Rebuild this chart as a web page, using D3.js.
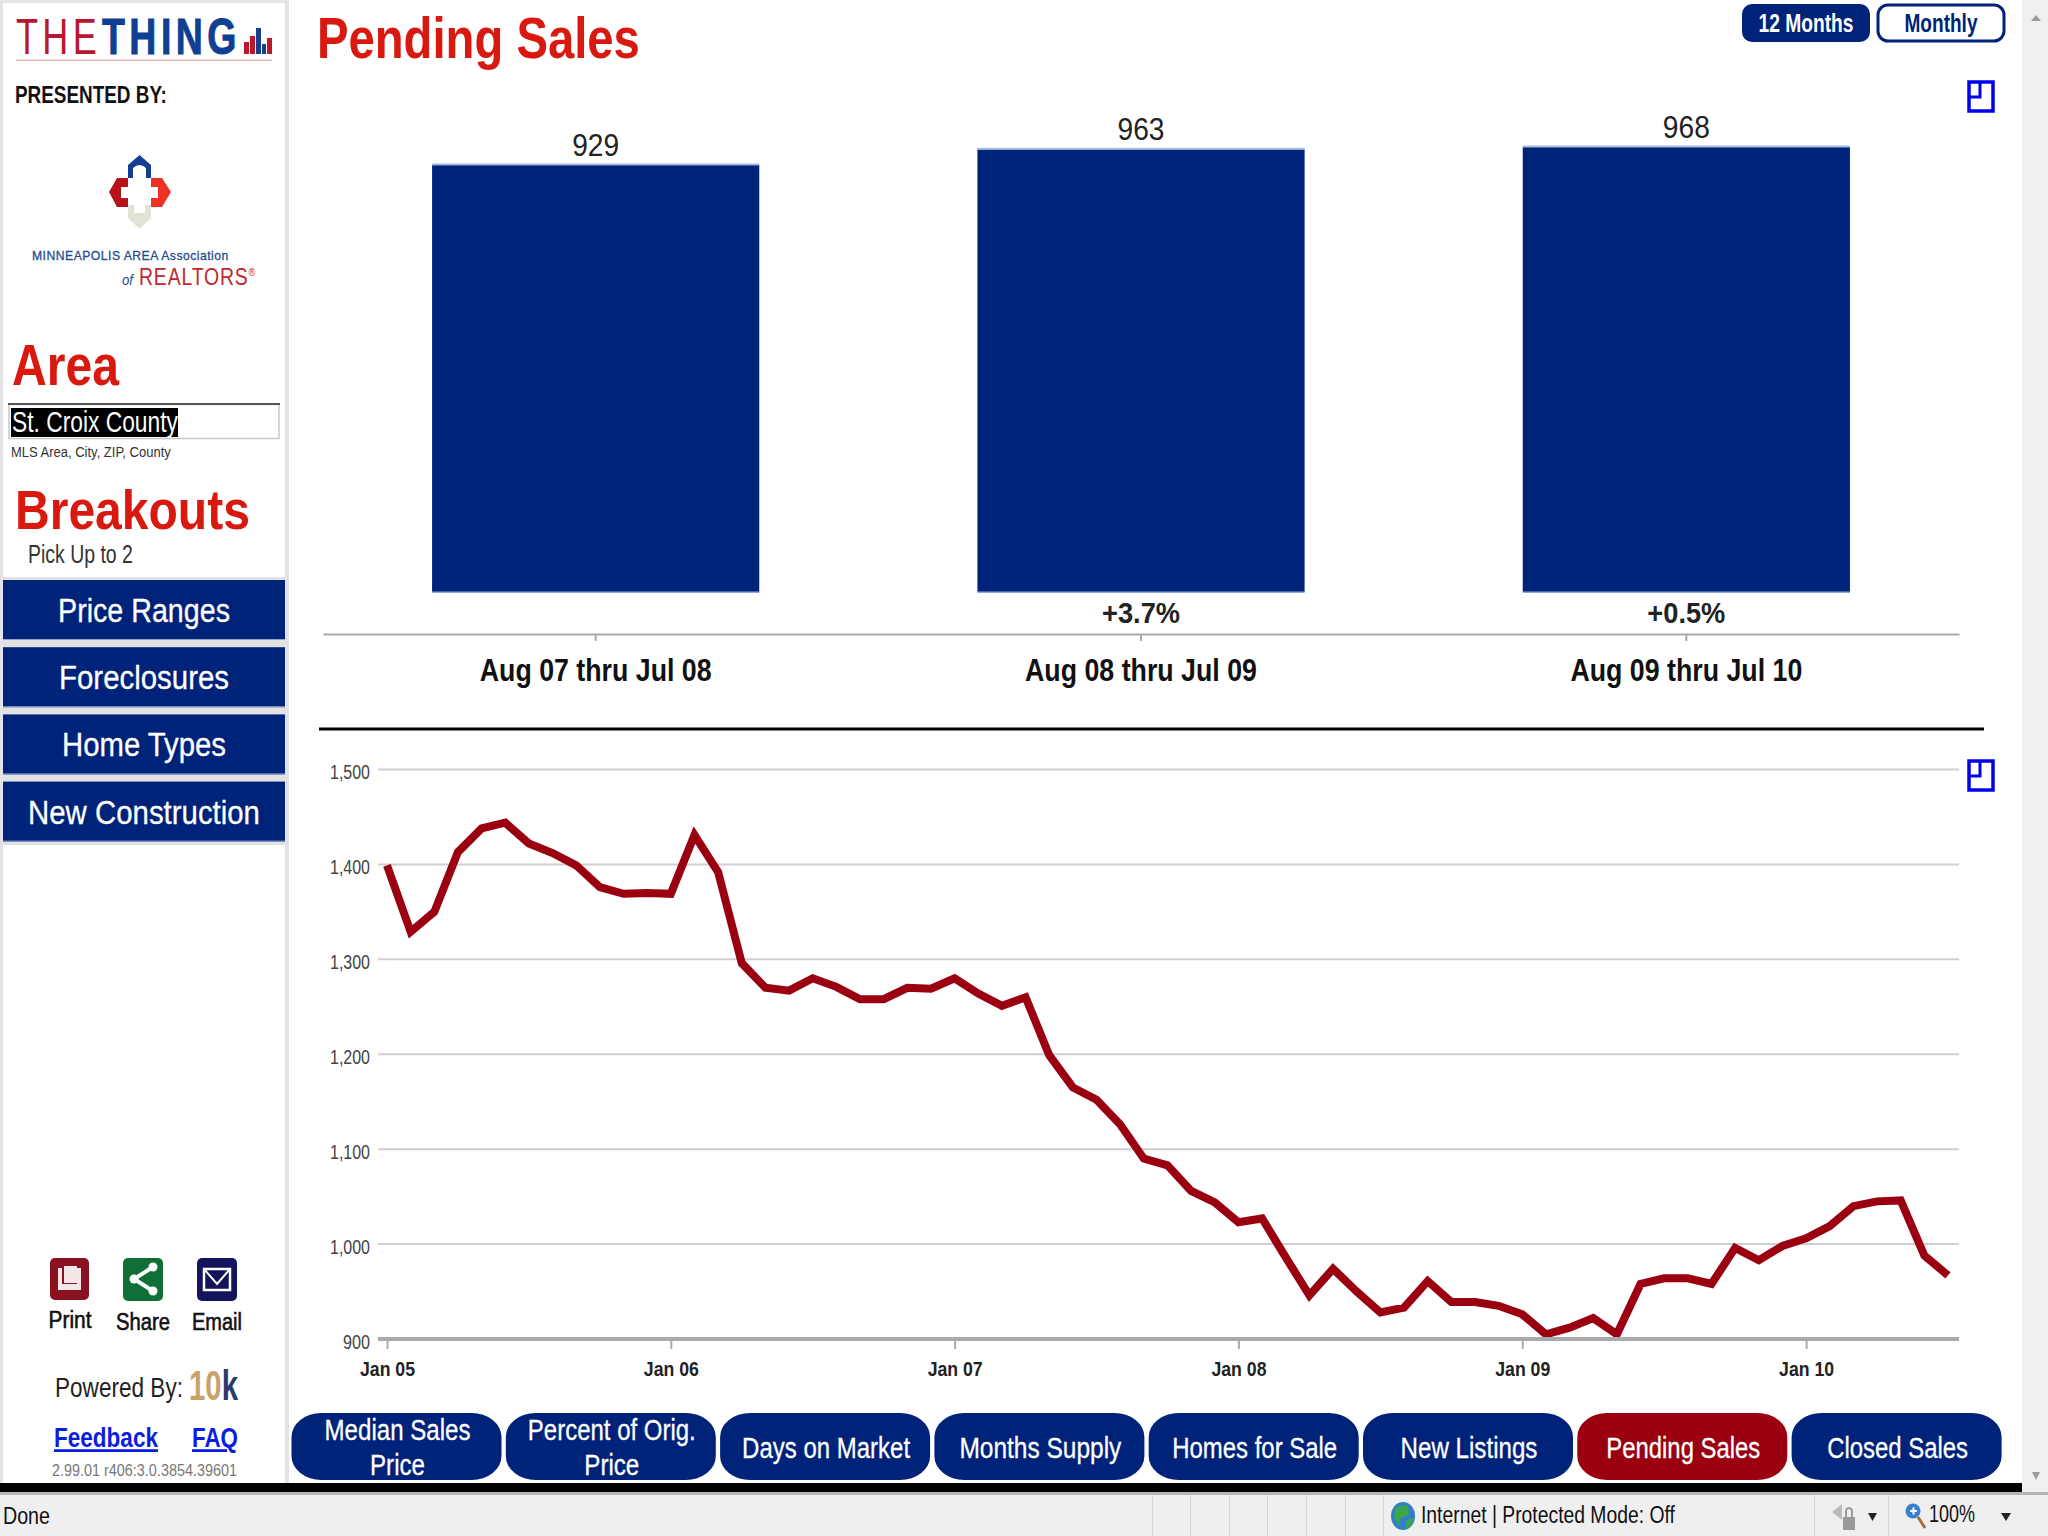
<!DOCTYPE html>
<html><head><meta charset="utf-8">
<script src="https://cdnjs.cloudflare.com/ajax/libs/d3/7.8.5/d3.min.js"></script>
<style>html,body{margin:0;padding:0;background:#fff;overflow:hidden}svg{display:block;font-family:"Liberation Sans",Arial,sans-serif}</style>
</head><body><svg id="c" width="2048" height="1536" viewBox="0 0 2048 1536"></svg>
<script>
// ---- data ----
const barLabels = ["Aug 07 thru Jul 08","Aug 08 thru Jul 09","Aug 09 thru Jul 10"];
const barValues = [929,963,968];
const barChanges = ["","+3.7%","+0.5%"];
const lineValues = [1399,1329,1350,1413,1438,1444,1422,1412,1399,1376,1369,1370,
 1369,1431,1392,1296,1270,1267,1280,1271,1258,1258,1270,1269,
 1280,1264,1251,1260,1199,1165,1152,1126,1090,1083,1056,1044,
 1023,1027,986,946,974,950,928,933,961,939,939,935,
 926,905,912,922,905,958,964,964,958,996,983,998,
 1006,1019,1040,1045,1046,988,967];
const yTicks = [900,1000,1100,1200,1300,1400,1500];
const xTickIndex = [0,12,24,36,48,60];
const xTickLabels = ["Jan 05","Jan 06","Jan 07","Jan 08","Jan 09","Jan 10"];
const sideButtons = ["Price Ranges","Foreclosures","Home Types","New Construction"];
const sideWidths = [172,170,164,232];
const tabLines = [["Median Sales","Price"],["Percent of Orig.","Price"],["Days on Market"],["Months Supply"],["Homes for Sale"],["New Listings"],["Pending Sales"],["Closed Sales"]];
const tabWidths = [[146,55],[168,55],[168],[162],[165],[137],[154],[141]];
const activeTab = "Pending Sales";

// ---- helpers ----
const NAVY="#00237a", RED="#d9180f", DARKRED="#9b0010";
const svg=d3.select("#c");
// text fitted to a target width by horizontal scaling (the reference is horizontally squeezed)
function T(s,x,y,size,w,o={}){
  const t=svg.append("text").attr("font-size",size)
    .attr("fill",o.fill||"#111").attr("text-anchor",o.anchor||"start");
  if(o.parts){ o.parts.forEach(p=>{
      const sp=t.append("tspan").text(p.s);
      if(p.fill)sp.attr("fill",p.fill);
      if(p.size)sp.attr("font-size",p.size);
      if(p.dy)sp.attr("dy",p.dy);
    });
  } else t.text(s);
  if(o.weight)t.attr("font-weight",o.weight);
  if(o.style)t.attr("font-style",o.style);
  if(o.deco)t.attr("text-decoration",o.deco);
  if(o.spacing)t.attr("letter-spacing",o.spacing);
  if(o.halo)t.attr("stroke",o.fill||"#111").attr("stroke-width",o.halo);
  const len=t.node().getComputedTextLength();
  const k=w?w/len:1;
  t.attr("transform",`translate(${x},${y}) scale(${k},1)`);
  return t;
}
function R(x,y,w,h,f,o={}){
  const r=svg.append("rect").attr("x",x).attr("y",y).attr("width",w).attr("height",h).attr("fill",f);
  if(o.rx!=null)r.attr("rx",o.rx).attr("ry",o.ry!=null?o.ry:o.rx);
  if(o.stroke)r.attr("stroke",o.stroke).attr("stroke-width",o.sw||1);
  return r;
}
function P(d,f,o={}){
  const p=svg.append("path").attr("d",d).attr("fill",f);
  if(o.stroke)p.attr("stroke",o.stroke).attr("stroke-width",o.sw||1);
  return p;
}

// ---- page chrome ----
R(0,0,2048,1536,"#fff");
R(0,0,3,1483,"#e4e4e8");
R(0,0,288,3,"#e4e4e8");
R(285,0,4,1483,"#e2e2e6");
R(2022,0,26,1492,"#f0f0f1");
P("M2031 21 L2036 15 L2041 21 Z","#9a9a9a");
P("M2032 1472 L2040 1472 L2036 1480 Z","#9a9a9a");

// ---- sidebar: branding ----
T("THE",16,54,50,85,{fill:"#b8172e",spacing:6});
T("THING",102,54,50,139,{fill:"#0e3f92",weight:"bold",spacing:6,halo:1});
[[244,42,5,"#c0162c"],[250,36,5,"#c0162c"],[256,28,5,"#16408f"],[262,44,4,"#16408f"],[267,38,5,"#c0162c"]].forEach(b=>R(b[0],b[1],b[2],54-b[1],b[3]));
R(16,59.5,256,1.5,"#eeb4bc");
T("PRESENTED BY:",15,103,24,152,{weight:"bold"});
// association mark
P("M128 178 L128 165 L139.5 155 L151 165 L151 178 L146 178 L146 168 Q139.5 162 133 168 L133 178 Z","#123f92");
P("M128 178 L117 178 L109 192 L117 207 L128 207 L128 198 L121 198 L121 187 L128 187 Z","#b5121b");
P("M151 178 L162 178 L171 192 L162 207 L151 207 L151 198 L158 198 L158 187 L151 187 Z","#ee3124");
P("M128 205 L128 218 L139.5 229 L151 218 L151 205 L145 205 L145 213 L134 213 L134 205 Z","#e3e2d6");
T("MINNEAPOLIS AREA Association",32,260,13,197,{fill:"#1f4b8e",halo:0.3,spacing:0.5});
T("of",122,285,15,11,{fill:"#1f4b8e",style:"italic"});
T("",139,285,24,117,{fill:"#c1272d",spacing:1,parts:[{s:"REALTORS"},{s:"®",size:11,dy:-9}]});

// ---- sidebar: area + breakouts ----
T("Area",12,385,58,107,{fill:RED,weight:"bold"});
R(9,404.5,270,34,"#fff",{stroke:"#c8c8cc",sw:1.5});
R(8,403,272,2,"#555");
R(11,408,167,29,"#000");
T("St. Croix County",12,432,29,166,{fill:"#fff"});
T("MLS Area, City, ZIP, County",11,457,15,160,{fill:"#333"});
T("Breakouts",15,529,56,235,{fill:RED,weight:"bold"});
T("Pick Up to 2",28,563,25,105,{fill:"#333"});
R(3,577,282,268,"#e2e2e2");
sideButtons.forEach((s,i)=>{
  const y=580+i*67.2;
  R(3,y,282,60,NAVY);
  R(3,y+59,282,1,"#8fa4cf");
  T(s,144,y+42,33,sideWidths[i],{fill:"#fff",anchor:"middle",halo:0.3});
});

// ---- sidebar: actions ----
R(50,1258,39,42,"#8a1220",{rx:5});
P("M58 1268 H62 V1284 H77 V1268 H81 V1290 H58 Z","#f3e7e7");
R(64,1266,13,17,"#f3e7e7");
R(123,1258,40,43,"#0f6f36",{rx:5});
P("M153 1267 L134 1279 L153 1291","none",{stroke:"#fff",sw:4});
[[153,1267],[134,1279],[153,1291]].forEach(c=>svg.append("circle").attr("cx",c[0]).attr("cy",c[1]).attr("r",4.5).attr("fill","#fff"));
R(197,1258,40,43,"#14145c",{rx:5});
R(204,1269,26,21,"#14145c",{stroke:"#fff",sw:2.5});
P("M204 1269 L217 1284 L230 1269","none",{stroke:"#fff",sw:2});
T("Print",70,1328,24,43,{anchor:"middle",halo:0.6});
T("Share",143,1330,24,54,{anchor:"middle",halo:0.6});
T("Email",217,1330,24,50,{anchor:"middle",halo:0.6});
T("Powered By:",55,1397,28,128,{fill:"#222"});
T("",189,1400,42,49,{weight:"bold",parts:[{s:"10",fill:"#c9a16b"},{s:"k",fill:"#2b3a6b"}]});
T("Feedback",54,1447,28,104,{fill:"#0a1ee0",weight:"bold",deco:"underline"});
T("FAQ",192,1447,28,46,{fill:"#0a1ee0",weight:"bold",deco:"underline"});
T("2.99.01 r406:3.0.3854.39601",52,1476,16,185,{fill:"#777"});

// ---- header ----
T("Pending Sales",317,58,58,323,{fill:RED,weight:"bold"});
R(1742,4,128,38,NAVY,{rx:10});
T("12 Months",1806,32,25,95,{fill:"#fff",weight:"bold",anchor:"middle"});
R(1878,5,126,36,"#fff",{rx:10,stroke:NAVY,sw:3});
T("Monthly",1941,32,25,73,{fill:NAVY,weight:"bold",anchor:"middle"});
function popIcon(x,y){
  R(x,y,24,29,"none",{stroke:"#0000f0",sw:3.5});
  P(`M${x} ${y+15} H${x+11} V${y}`,"none",{stroke:"#0000f0",sw:3});
}
popIcon(1969,82); popIcon(1969,761);

// ---- 12-month bars ----
const bx=d3.scaleBand().domain(barLabels).range([323,1959]).paddingInner(0.4).paddingOuter(0.2);
const by=d3.scaleLinear().domain([0,968]).range([592,147]);
svg.append("g").selectAll("rect").data(barValues).join("rect")
  .attr("x",(d,i)=>bx(barLabels[i])).attr("width",bx.bandwidth())
  .attr("y",d=>by(d)).attr("height",d=>by(0)-by(d)).attr("fill",NAVY);
svg.append("g").selectAll("rect").data(barValues).join("rect")
  .attr("x",(d,i)=>bx(barLabels[i])).attr("width",bx.bandwidth())
  .attr("y",d=>by(d)-1.5).attr("height",2).attr("fill","#a9bbdc");
svg.append("g").selectAll("rect").data(barValues).join("rect")
  .attr("x",(d,i)=>bx(barLabels[i])).attr("width",bx.bandwidth())
  .attr("y",by(0)-0.5).attr("height",1.5).attr("fill","#8fa9d6");
barValues.forEach((v,i)=>{
  const cx=bx(barLabels[i])+bx.bandwidth()/2;
  T(d3.format("d")(v),cx,by(v)-9,32,47,{anchor:"middle",fill:"#222"});
  if(barChanges[i])T(barChanges[i],cx,623,30,78,{anchor:"middle",weight:"bold",fill:"#222"});
  T(barLabels[i],cx,681,32,232,{anchor:"middle",weight:"bold",fill:"#111"});
});
const barAxis=svg.append("g").attr("transform","translate(0,634)")
  .call(d3.axisBottom(bx).tickSize(7).tickSizeOuter(0).tickFormat(""));
barAxis.selectAll("path,line").attr("stroke","#aaa").attr("stroke-width",2);
R(319,727.5,1665,3,"#000");

// ---- monthly line ----
const lx=d3.scaleLinear().domain([0,66]).range([387,1948]);
const ly=d3.scaleLinear().domain([900,1500]).range([1339,769.5]);
const gridG=svg.append("g").attr("transform","translate(378,0)")
  .call(d3.axisLeft(ly).tickValues(yTicks).tickFormat(d3.format(",")).tickSize(0).tickPadding(8));
gridG.select(".domain").remove();
gridG.selectAll("text").attr("font-size",20).attr("fill","#444").attr("dy","0.75em").attr("y",-6)
  .attr("textLength",d=>d>=1000?40:27).attr("lengthAdjust","spacingAndGlyphs")
  .style("font-family",'"Liberation Sans",Arial,sans-serif');
svg.append("g").selectAll("line").data(yTicks.filter(d=>d>900)).join("line")
  .attr("x1",378).attr("x2",1959).attr("y1",d=>ly(d)).attr("y2",d=>ly(d))
  .attr("stroke","#cfcfd2").attr("stroke-width",2);
const line=d3.line().x((d,i)=>lx(i)).y(d=>ly(d));
svg.append("path").datum(lineValues).attr("d",line).attr("fill","none")
  .attr("stroke",DARKRED).attr("stroke-width",8).attr("stroke-linejoin","miter").attr("stroke-miterlimit",3);
const xAxisG=svg.append("g").attr("transform","translate(0,1339)")
  .call(d3.axisBottom(lx).tickValues(xTickIndex).tickFormat((d,i)=>xTickLabels[i]).tickSize(10).tickPadding(13).tickSizeOuter(0));
xAxisG.select(".domain").remove();
xAxisG.selectAll("line").attr("stroke","#aaa").attr("stroke-width",2);
xAxisG.selectAll("text").attr("font-size",20).attr("font-weight","bold").attr("fill","#222")
  .attr("textLength",55).attr("lengthAdjust","spacingAndGlyphs")
  .style("font-family",'"Liberation Sans",Arial,sans-serif');
R(378,1337,1581,4,"#ababae");

// ---- bottom tabs ----
tabLines.forEach((lines,i)=>{
  const x=291.5+i*214.3, name=lines.join(" ");
  R(x,1413,210,67,name===activeTab?DARKRED:NAVY,{rx:30,ry:24});
  const ys=lines.length===2?[1440,1475]:[1458];
  lines.forEach((s,j)=>T(s,x+106,ys[j],30,tabWidths[i][j],{fill:"#fff",anchor:"middle",halo:0.3}));
});

// ---- browser status bar ----
R(0,1483,2022,9,"#000");
R(0,1492,2048,3,"#b5b5b8");
R(0,1495,2048,41,"#f0eff0");
T("Done",3,1524,24,47,{fill:"#111"});
[1152,1190,1229,1267,1306,1345,1383,1814,1888].forEach(x=>R(x,1495,1,41,"#d5d5d8"));
svg.append("ellipse").attr("cx",1403).attr("cy",1516).attr("rx",12).attr("ry",14).attr("fill","#2f7fc9");
P("M1396 1507 L1408 1505 L1409 1515 L1401 1518 L1398 1526 L1394 1516 Z","#3fa648");
P("M1407 1520 L1413 1518 L1411 1527 L1405 1528 Z","#3fa648");
T("Internet | Protected Mode: Off",1421,1523,23,254,{fill:"#111"});
R(1843,1517,12,13,"#9a9a9a");
P("M1846 1517 V1510 Q1849 1506 1852 1510 V1517","none",{stroke:"#9a9a9a",sw:2});
P("M1832 1512 L1842 1504 V1520 Z","#bbb");
P("M1868 1513 L1877 1513 L1872.5 1521 Z","#222");
svg.append("circle").attr("cx",1913).attr("cy",1511).attr("r",7.5).attr("fill","#3a7fd0");
R(1910,1510,7,2,"#fff"); R(1912.5,1507.5,2,7,"#fff");
P("M1918 1517 L1925 1528","none",{stroke:"#a86f34",sw:3});
T("100%",1929,1522,23,46,{fill:"#111"});
P("M2001 1513 L2011 1513 L2006 1521 Z","#222");
</script></body></html>
